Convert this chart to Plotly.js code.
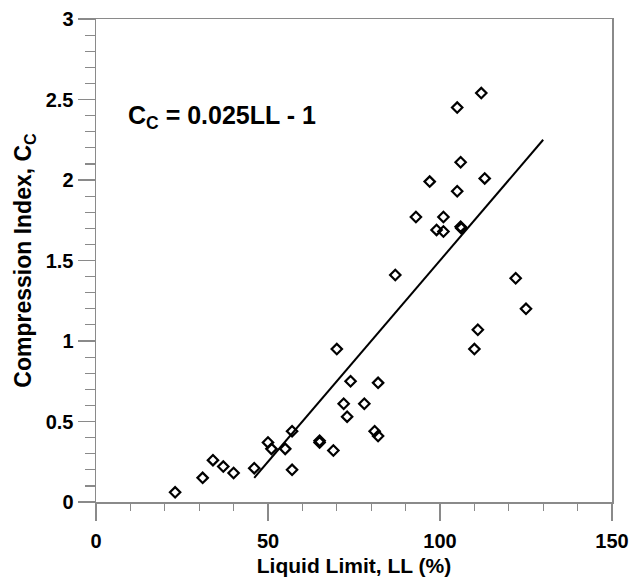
<!DOCTYPE html>
<html>
<head>
<meta charset="utf-8">
<script src="https://cdn.plot.ly/plotly-3.0.1.min.js"></script>
<style>html,body{margin:0;padding:0;background:#fff;}#chart{width:643px;height:581px;}</style>
</head>
<body>
<div id="chart"></div>
<script>
// Measured data: Liquid Limit (%) vs Compression Index
var liquidLimit = [23, 31, 34, 37, 40, 46, 50, 51, 55, 57, 57, 65, 65, 69,
                   70, 74, 82, 72, 78, 73, 81, 82,
                   112, 105, 106, 113, 97, 105, 93, 101, 99, 101, 106, 106.2, 87, 122, 125, 111, 110];
var compressionIndex = [0.06, 0.15, 0.26, 0.22, 0.18, 0.21, 0.37, 0.33, 0.33, 0.44, 0.20, 0.37, 0.38, 0.32,
                        0.95, 0.75, 0.74, 0.61, 0.61, 0.53, 0.44, 0.41,
                        2.54, 2.45, 2.11, 2.01, 1.99, 1.93, 1.77, 1.77, 1.69, 1.68, 1.71, 1.70, 1.41, 1.39, 1.20, 1.07, 0.95];
// Fitted line Cc = 0.025LL - 1 (end points)
var fitX = [46, 130];
var fitY = [0.15, 2.25];
var xTicks = [0, 50, 100, 150];
var yTicks = [0, 0.5, 1, 1.5, 2, 2.5, 3];

var axisGray = '#8a8a8a';
var fontFam = 'Arial, "Liberation Sans", Helvetica, sans-serif';

var traces = [
  {
    x: liquidLimit, y: compressionIndex, type: 'scatter', mode: 'markers',
    marker: {symbol: 'diamond-open', size: 8, color: '#000', line: {width: 2.2, color: '#000'}},
    hoverinfo: 'x+y'
  },
  {
    x: fitX, y: fitY, type: 'scatter', mode: 'lines',
    line: {color: '#000', width: 2}
  }
];

var layout = {
  width: 643, height: 581,
  margin: {l: 96, r: 31, t: 19, b: 79},
  paper_bgcolor: '#fff', plot_bgcolor: '#fff',
  showlegend: false,
  xaxis: {
    range: [0, 150], tickvals: xTicks, ticktext: xTicks.map(String),
    showgrid: false, zeroline: false,
    showline: true, linecolor: axisGray, linewidth: 1.5, mirror: true,
    ticks: 'outside', ticklen: 17, tickwidth: 1.5, tickcolor: axisGray,
    ticklabelstandoff: 3,
    minor: {dtick: 10, ticks: 'outside', ticklen: 7, tickwidth: 1.2, tickcolor: axisGray, showgrid: false},
    tickfont: {family: fontFam, size: 20, color: '#000', weight: 'bold'},
    title: {text: 'Liquid Limit, LL (%)', standoff: 8, font: {family: fontFam, size: 21, color: '#000', weight: 'bold'}}
  },
  yaxis: {
    range: [0, 3], tickvals: yTicks, ticktext: yTicks.map(String),
    showgrid: false, zeroline: false,
    showline: true, linecolor: axisGray, linewidth: 1.5, mirror: true,
    ticks: 'outside', ticklen: 17, tickwidth: 1.5, tickcolor: axisGray,
    minor: {dtick: 0.1, ticks: 'outside', ticklen: 10, tickwidth: 1.2, tickcolor: axisGray, showgrid: false},
    tickfont: {family: fontFam, size: 20, color: '#000', weight: 'bold'},
    title: {text: 'Compression Index, C<sub>C</sub>', standoff: 7, font: {family: fontFam, size: 23, color: '#000', weight: 'bold'}}
  },
  annotations: [{
    xref: 'paper', yref: 'paper', x: 0.058, y: 0.797, xanchor: 'left', yanchor: 'middle',
    showarrow: false,
    text: 'C<sub>C</sub> = 0.025LL - 1',
    font: {family: fontFam, size: 25, color: '#000', weight: 'bold'}
  }]
};

Plotly.newPlot('chart', traces, layout, {displayModeBar: false, staticPlot: true});
</script>
</body>
</html>
